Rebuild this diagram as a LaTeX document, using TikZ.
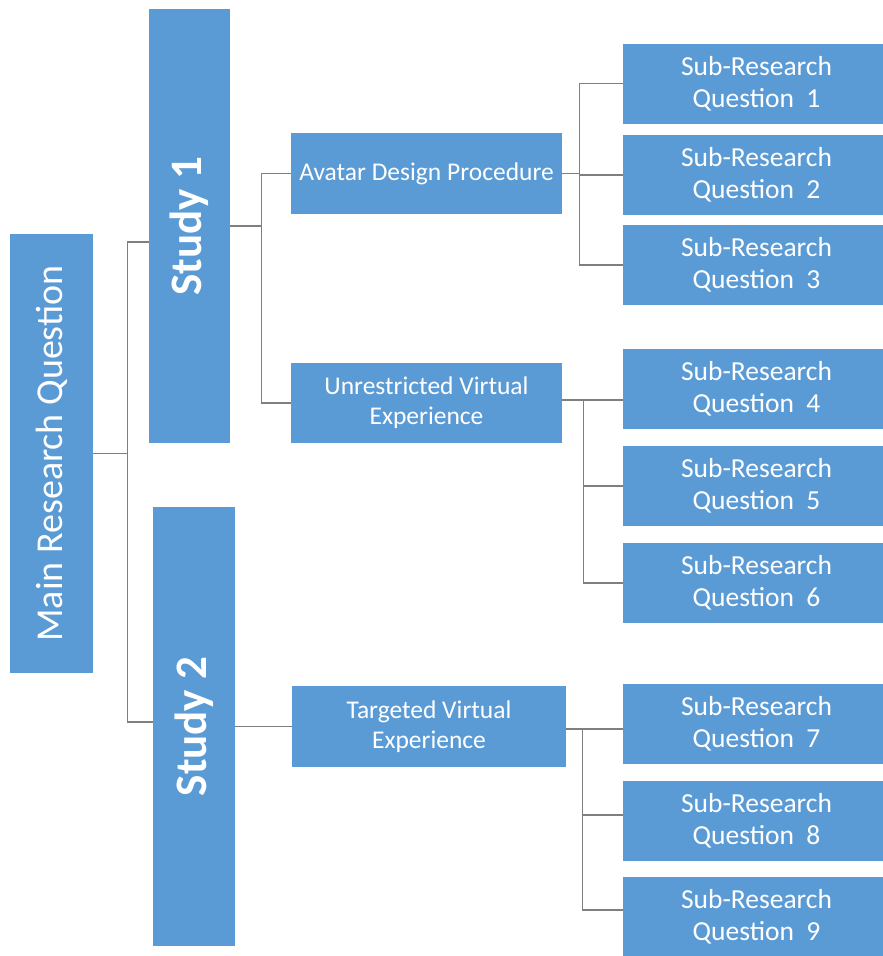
\documentclass[tikz,border=0pt]{standalone}
\usepackage{fontspec}
\setmainfont{Carlito}
\definecolor{boxblue}{HTML}{5B9BD5}
\definecolor{linkgray}{HTML}{7F7F7F}
\begin{document}
\begin{tikzpicture}[x=1pt,y=-1pt,
  box/.style={fill=boxblue, draw=none, text=white, align=center, inner sep=0pt},
  vbox/.style={box, minimum width=#1},
  midbox/.style={box, minimum width=271, minimum height=80.5,
    font=\fontsize{25.5}{30}\selectfont},
  srq/.style={box, minimum width=267, minimum height=80,
    font=\fontsize{27.5}{32}\selectfont},
  vlabel/.style={rotate=90, text=white, inner sep=0pt},
  link/.style={draw=linkgray, line width=1.2pt}]
\useasboundingbox[fill=white] (0,0) rectangle (883,956);

% left column: main question and the two studies
\node[vbox=83, minimum height=439,
  label={[vlabel, font=\fontsize{38}{40}\selectfont]center:Main Research Question}]
  (main) at (51.5,453.5) {};
\node[vbox=81, minimum height=434,
  label={[vlabel, font=\fontsize{45}{48}\bfseries\selectfont]center:Study 1}]
  (s1) at (189.5,226) {};
\node[vbox=82, minimum height=439,
  label={[vlabel, font=\fontsize{45}{48}\bfseries\selectfont]center:Study 2}]
  (s2) at (194,726.5) {};

% middle column
\node[midbox] (adp) at (426.5,173.5) {Avatar Design Procedure};
\node[midbox] (uve) at (426.5,403) {Unrestricted Virtual\\Experience};
\node[midbox, minimum width=274] (tve) at (429,726.5) {Targeted Virtual\\Experience};

% right column: sub-research questions
\foreach \i/\y in {1/83.5, 2/175, 3/265, 4/389, 5/486, 6/583, 7/723.5, 8/821, 9/917}
  \node[srq] (q\i) at (756.5,\y) {Sub-Research\\Question\hspace{0.45em}\i};

% connectors
\draw[link] (main.east) -- ++(34,0) coordinate (j0);
\draw[link] (j0) |- ([yshift=-16]s1.west);
\draw[link] (j0) |- ([yshift=4.5]s2.west);

\draw[link] (s1.east) -- ++(31,0) coordinate (j1);
\draw[link] (j1) |- (adp.west);
\draw[link] (j1) |- (uve.west);

\draw[link] (s2.east) -- (tve.west);

\draw[link] (adp.east) -- ++(17,0) coordinate (j2);
\draw[link] (j2) |- (q1.west);
\draw[link] (j2) |- (q2.west);
\draw[link] (j2) |- (q3.west);

\draw[link] ([yshift=3]uve.east) -- ++(21,0) coordinate (j3) -- ([yshift=3]uve.east -| q4.west);
\draw[link] (j3) |- (q5.west);
\draw[link] (j3) |- (q6.west);

\draw[link] ([yshift=-2.5]tve.east) -- ++(16,0) coordinate (j4) -- ([yshift=-2.5]tve.east -| q7.west);
\draw[link] (j4) |- ([yshift=6]q8.west);
\draw[link] (j4) |- ([yshift=7]q9.west);
\end{tikzpicture}
\end{document}
